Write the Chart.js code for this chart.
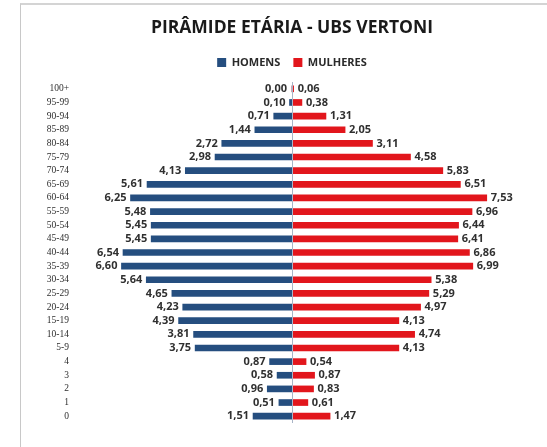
<!DOCTYPE html>
<html>
<head>
<meta charset="utf-8">
<script src="https://cdn.jsdelivr.net/npm/chart.js@4.4.1/dist/chart.umd.min.js"></script>
<style>
  html, body { margin: 0; padding: 0; background: #fff; }
  #wrap { position: relative; width: 547px; height: 447px; overflow: hidden; }
  #frame { position: absolute; left: 20px; top: 3px; width: 600px; height: 500px;
           border-top: 2px solid #d4d4d4; border-left: 1px solid #c8c8c8; }
  #pyramid { position: absolute; left: 0; top: 0; }
</style>
</head>
<body>
<div id="wrap">
  <div id="frame"></div>
  <canvas id="pyramid" width="547" height="447"></canvas>
</div>
<script>
// faixas etarias, de cima para baixo
var faixas = ["100+", "95-99", "90-94", "85-89", "80-84", "75-79", "70-74", "65-69",
  "60-64", "55-59", "50-54", "45-49", "40-44", "35-39", "30-34", "25-29", "20-24",
  "15-19", "10-14", "5-9", "4", "3", "2", "1", "0"];
// percentual da populacao
var homens = [0.00, 0.10, 0.71, 1.44, 2.72, 2.98, 4.13, 5.61, 6.25, 5.48, 5.45, 5.45,
  6.54, 6.60, 5.64, 4.65, 4.23, 4.39, 3.81, 3.75, 0.87, 0.58, 0.96, 0.51, 1.51];
var mulheres = [0.06, 0.38, 1.31, 2.05, 3.11, 4.58, 5.83, 6.51, 7.53, 6.96, 6.44, 6.41,
  6.86, 6.99, 5.38, 5.29, 4.97, 4.13, 4.74, 4.13, 0.54, 0.87, 0.83, 0.61, 1.47];

var AZUL = "#254e7f";
var VERMELHO = "#e2161c";

function fmt(v) {
  return v.toFixed(2).replace(".", ",");
}

// rotulos dos valores + linha central
var rotulos = {
  id: "rotulos",
  afterDatasetsDraw: function(chart) {
    var ctx = chart.ctx;
    var area = chart.chartArea;
    var x0 = chart.scales.x.getPixelForValue(0);
    ctx.save();
    ctx.strokeStyle = "#a9b4c6";
    ctx.lineWidth = 1;
    ctx.beginPath();
    ctx.moveTo(Math.round(x0) + 0.5, area.top);
    ctx.lineTo(Math.round(x0) + 0.5, area.bottom);
    ctx.stroke();

    ctx.font = "bold 11px 'Open Sans'";
    ctx.fillStyle = "#303030";
    ctx.textBaseline = "middle";
    chart.data.datasets.forEach(function(ds, i) {
      var meta = chart.getDatasetMeta(i);
      meta.data.forEach(function(bar, j) {
        var v = i === 0 ? homens[j] : mulheres[j];
        if (i === 0) {
          ctx.textAlign = "right";
          ctx.fillText(fmt(v), Math.min(bar.x, x0 - 1) - 4, bar.y);
        } else {
          ctx.textAlign = "left";
          ctx.fillText(fmt(v), Math.max(bar.x, x0 + 1) + 4, bar.y);
        }
      });
    });
    ctx.restore();
  }
};

var chart = new Chart("pyramid", {
  type: "bar",
  data: {
    labels: faixas,
    datasets: [{
      label: "HOMENS",
      data: homens.map(function(v) { return -v; }),
      backgroundColor: AZUL,
      barThickness: 6
    }, {
      label: "MULHERES",
      data: mulheres,
      backgroundColor: VERMELHO,
      barThickness: 6
    }]
  },
  options: {
    indexAxis: "y",
    responsive: false,
    animation: false,
    layout: { padding: { left: 37, right: 0, top: 0, bottom: 24 } },
    plugins: {
      title: {
        display: true,
        text: "PIRÂMIDE ETÁRIA - UBS VERTONI",
        color: "#1a1a1a",
        font: { family: "'Open Sans'", size: 17.5, weight: "bold" },
        padding: { top: 18, bottom: 5 }
      },
      // espaco vazio entre legenda e grafico
      subtitle: {
        display: true,
        text: "",
        weight: 500,
        font: { size: 1, lineHeight: 1 },
        padding: { top: 0, bottom: 3 }
      },
      legend: {
        display: true,
        labels: {
          color: "#2a2a2a",
          font: { family: "'Open Sans'", size: 11, weight: "bold" },
          boxWidth: 9,
          boxHeight: 9,
          padding: 13
        }
      },
      tooltip: { enabled: false }
    },
    scales: {
      x: {
        display: false,
        stacked: true,
        min: -8.01,
        max: 9.86
      },
      y: {
        stacked: true,
        grid: { display: false },
        border: { display: false },
        afterFit: function(scale) { scale.width = 48; },
        ticks: {
          autoSkip: false,
          color: "#2e2e2e",
          padding: 8,
          font: { family: "'Liberation Serif'", size: 9.5 }
        }
      }
    }
  },
  plugins: [rotulos]
});
</script>
</body>
</html>
